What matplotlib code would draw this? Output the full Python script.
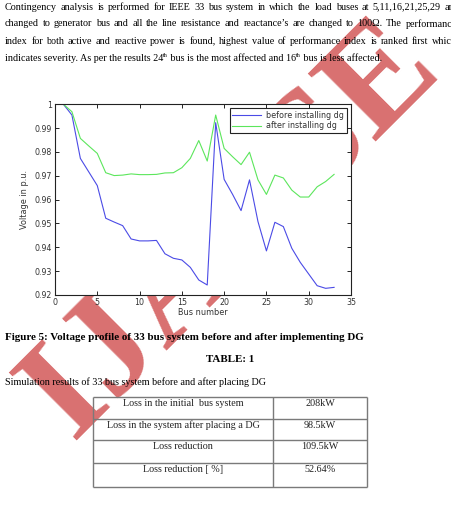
import matplotlib
matplotlib.use("Agg")
import matplotlib.pyplot as plt

W, H = 452, 522
SERIF = "Liberation Serif"
SANS = "DejaVu Sans"

# ==========================
# DATA
# ==========================
bus = list(range(1, 34))
v_before = [1.0, 0.9955, 0.9773, 0.9716, 0.9659, 0.9522, 0.9506, 0.9491, 0.9435, 0.9427,
            0.9427, 0.9429, 0.9373, 0.9354, 0.9347, 0.9316, 0.9263, 0.9242, 0.9923, 0.9685,
            0.9622, 0.9554, 0.9683, 0.9508, 0.9385, 0.9505, 0.9487, 0.9396, 0.9337, 0.9288,
            0.9239, 0.9228, 0.9232]
v_after = [1.0, 0.9969, 0.9857, 0.9825, 0.9794, 0.9713, 0.9701, 0.9703, 0.9708, 0.9705,
           0.9705, 0.9706, 0.9712, 0.9713, 0.9734, 0.9773, 0.9848, 0.9762, 0.9955, 0.9815,
           0.9780, 0.9747, 0.9799, 0.9683, 0.9622, 0.9703, 0.9691, 0.9640, 0.9611, 0.9611,
           0.9654, 0.9676, 0.9706]
series_names = ["before installing dg", "after installing dg"]

x_ticks = [0, 5, 10, 15, 20, 25, 30, 35]
y_ticks = [0.92, 0.93, 0.94, 0.95, 0.96, 0.97, 0.98, 0.99, 1.0]
y_tick_labels = ["0.92", "0.93", "0.94", "0.95", "0.96", "0.97", "0.98", "0.99", "1"]

para_lines = [
    "Contingency analysis is performed for IEEE 33 bus system  in which the load buses at 5,11,16,21,25,29 are",
    "changed to generator  bus and all the line resistance and reactance\u2019s are changed to 100\u03a9. The performance",
    "index for both active and reactive power is found, highest value of performance index is ranked first which",
]
last_line = [("indicates severity. As per the results 24", False), ("th", True),
             (" bus is the most affected and 16", False), ("th", True),
             (" bus is less affected.", False)]

caption = "Figure 5: Voltage profile of 33 bus system before and after implementing DG"
table_title = "TABLE: 1"
table_note = "Simulation results of 33 bus system before and after placing DG"
table_labels = ["Loss in the initial  bus system", "Loss in the system after placing a DG",
                "Loss reduction", "Loss reduction [ %]"]
table_values = ["208kW", "98.5kW", "109.5kW", "52.64%"]

# ==========================
# PAGE
# ==========================
fig = plt.figure(figsize=(W / 100, H / 100), dpi=100)
page = fig.add_axes([0, 0, 1, 1], zorder=0)
page.set_xlim(0, W)
page.set_ylim(H, 0)
page.axis("off")
renderer = fig.canvas.get_renderer()

# red journal stamp behind everything
page.text(72, 440, "IJARSE", rotation=45, rotation_mode="anchor", ha="left", va="baseline",
          fontsize=106, fontweight="bold", family=SERIF, color="#d97070", zorder=0)

fs = 7.3
line_y = [7, 24, 41.3]
for y, line in zip(line_y, para_lines):
    words = line.split()
    texts = [page.text(0, y, w, fontsize=fs, family=SERIF, va="center", zorder=2) for w in words]
    widths = [t.get_window_extent(renderer).width for t in texts]
    gap = (457 - 5 - sum(widths)) / (len(words) - 1)
    x = 5
    for t, w in zip(texts, widths):
        t.set_x(x)
        x += w + gap

x = 5
for piece, sup in last_line:
    t = page.text(x, 58.7 - (3 if sup else 0), piece, fontsize=fs * (0.6 if sup else 1),
                  family=SERIF, va="center", zorder=2)
    x += t.get_window_extent(renderer).width

page.text(5, 338, caption, fontsize=7.9, fontweight="bold", family=SERIF, va="center", zorder=2)
page.text(230, 360, table_title, fontsize=7.9, fontweight="bold", family=SERIF,
          ha="center", va="center", zorder=2)
page.text(5, 382, table_note, fontsize=fs, family=SERIF, va="center", zorder=2)

# table
row_edges = [397.3, 419, 440.3, 463.3, 487]
col_edges = [93.3, 273.3, 366.7]
page.hlines(row_edges, col_edges[0], col_edges[-1], color="#7a7a7a", lw=1.0, zorder=2)
page.vlines(col_edges, row_edges[0], row_edges[-1], color="#7a7a7a", lw=1.0, zorder=2)
for i, (lab, val) in enumerate(zip(table_labels, table_values)):
    y = row_edges[i] + 6.5
    page.text((col_edges[0] + col_edges[1]) / 2, y, lab, fontsize=fs, family=SERIF,
              ha="center", va="center", color="#222222", zorder=2)
    page.text((col_edges[1] + col_edges[2]) / 2, y, val, fontsize=fs, family=SERIF,
              ha="center", va="center", color="#222222", zorder=2)

# ==========================
# CHART
# ==========================
ax = fig.add_axes([55 / W, 1 - 295 / H, 296 / W, 190.7 / H], zorder=3)
ax.set_facecolor("white")
ax.plot(bus, v_before, color="#4b4be6", lw=0.8, label=series_names[0])
ax.plot(bus, v_after, color="#5ce65c", lw=0.8, label=series_names[1])
ax.set_xlim(0, 35)
ax.set_ylim(0.92, 1.0)
ax.set_xticks(x_ticks)
ax.set_yticks(y_ticks)
ax.set_yticklabels(y_tick_labels)
ax.tick_params(direction="in", top=True, right=True, length=3, width=0.6,
               labelsize=5.7, labelcolor="#333333", pad=2)
for t in ax.get_xticklabels() + ax.get_yticklabels():
    t.set_family(SANS)
for s in ax.spines.values():
    s.set_color("#222222")
    s.set_linewidth(0.8)
ax.set_xlabel("Bus number", fontsize=5.9, family=SANS, color="#333333", labelpad=1)
ax.set_ylabel("Voltage in p.u.", fontsize=5.9, family=SANS, color="#333333", labelpad=4)

leg = ax.legend(loc="upper right", bbox_to_anchor=(0.986, 0.981), borderaxespad=0,
                fancybox=False, framealpha=1, edgecolor="#222222",
                handlelength=3.6, handletextpad=0.6, borderpad=0.35, labelspacing=0.2,
                prop={"family": SANS, "size": 5.8})
leg.get_frame().set_linewidth(0.8)
for t in leg.get_texts():
    t.set_color("#333333")

fig.savefig("out.png", dpi=100)
